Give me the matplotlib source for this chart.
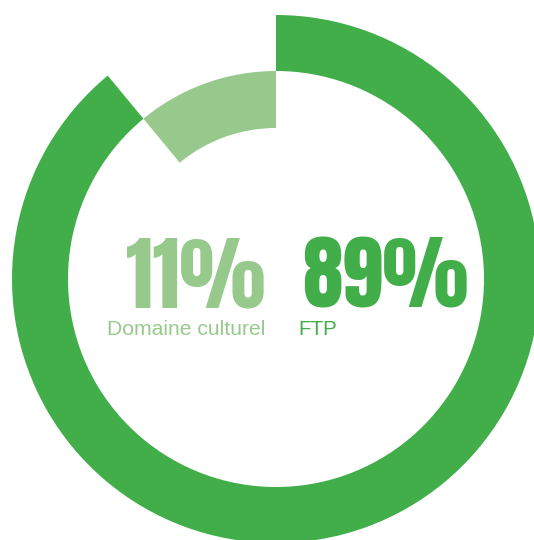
import matplotlib
matplotlib.use("Agg")
import matplotlib.pyplot as plt

categories = ["FTP", "Domaine culturel"]
values = [89, 11]
labels_pct = ["89%", "11%"]

DARK = "#41AE4A"
LIGHT = "#97C98C"

W, H = 534, 540
fig = plt.figure(figsize=(W / 100, H / 100), dpi=100)
ax = fig.add_axes([0, 0, 1, 1])

cx, cy = 276, 540 - 279
# Outer dark ring (FTP)
ax.pie(values, colors=[DARK, "none"], startangle=90, counterclock=False,
       radius=264, center=(cx, cy), wedgeprops=dict(width=56, linewidth=0))
# Inner light segment (Domaine culturel)
ax.pie(values, colors=["none", LIGHT], startangle=90, counterclock=False,
       radius=208, center=(cx, cy), wedgeprops=dict(width=57, linewidth=0))

ax.set_xlim(0, W)
ax.set_ylim(0, H)
ax.set_aspect("equal")
ax.axis("off")

bigfam = ["Anton", "DejaVu Sans"]
ax.text(265, 540 - 308, labels_pct[1], color=LIGHT, fontsize=58.5,
        family=bigfam, ha="right", va="baseline")
ax.text(302, 540 - 308, labels_pct[0], color=DARK, fontsize=58.5,
        family=bigfam, ha="left", va="baseline")
ax.text(265, 540 - 335, categories[1], color=LIGHT, fontsize=15.2,
        family=["Liberation Sans", "DejaVu Sans"], ha="right", va="baseline")
ax.text(298, 540 - 335, categories[0], color=DARK, fontsize=14.8,
        family=["Liberation Sans", "DejaVu Sans"], ha="left", va="baseline")

fig.savefig("out.png", dpi=100)
